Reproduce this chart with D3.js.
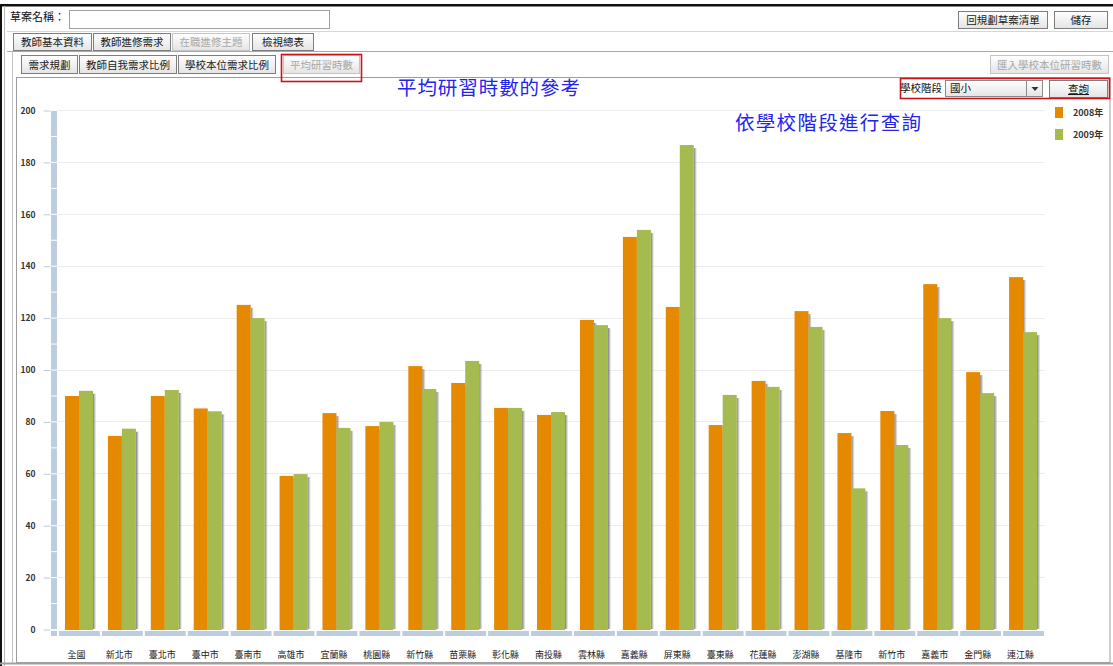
<!DOCTYPE html>
<html>
<head>
<meta charset="utf-8">
<script src="https://cdn.jsdelivr.net/npm/d3@7"></script>
<style>
  html, body { margin: 0; padding: 0; background: #fff; overflow: hidden; }
  svg { display: block; }
  text { font-family: "Noto Sans CJK TC", "Noto Sans", sans-serif; }
</style>
</head>
<body>
<svg id="page" width="1113" height="666"></svg>
<script>
// ---- data ----
const categories = ['全國','新北市','臺北市','臺中市','臺南市','高雄市','宜蘭縣','桃園縣','新竹縣','苗栗縣','彰化縣','南投縣','雲林縣','嘉義縣','屏東縣','臺東縣','花蓮縣','澎湖縣','基隆市','新竹市','嘉義市','金門縣','連江縣'];
const seriesNames = ['2008年', '2009年'];
const values2008 = [89.8, 74.4, 89.8, 85.0, 124.9, 59.0, 83.2, 78.2, 101.3, 94.8, 85.2, 82.5, 119.1, 151.1, 124.1, 78.6, 95.6, 122.5, 75.5, 84.0, 132.9, 99.0, 135.6];
const values2009 = [91.8, 77.2, 92.1, 83.9, 119.8, 59.7, 77.5, 79.8, 92.5, 103.3, 85.2, 83.6, 117.1, 153.8, 186.5, 90.2, 93.3, 116.4, 54.2, 70.9, 119.8, 90.9, 114.4];
const yTicks = [0, 20, 40, 60, 80, 100, 120, 140, 160, 180, 200];
const seriesColors = ['#e58a00', '#a5bb4f'];

const svg = d3.select('#page');
const defs = svg.append('defs');

// button face gradient
const bg = defs.append('linearGradient').attr('id', 'btnFace').attr('x1', 0).attr('y1', 0).attr('x2', 0).attr('y2', 1);
bg.append('stop').attr('offset', '0%').attr('stop-color', '#ffffff');
bg.append('stop').attr('offset', '100%').attr('stop-color', '#e4e4e4');

// bar drop shadow gradient
const sg = defs.append('linearGradient').attr('id', 'barShadow').attr('x1', 0).attr('y1', 0).attr('x2', 1).attr('y2', 0);
sg.append('stop').attr('offset', '0%').attr('stop-color', '#5a5a5a').attr('stop-opacity', 0.85);
sg.append('stop').attr('offset', '100%').attr('stop-color', '#9a9a9a').attr('stop-opacity', 0.15);

// ---- page frame ----
svg.append('rect').attr('x', 0).attr('y', 4).attr('width', 1113).attr('height', 2.5).attr('fill', '#111');
svg.append('rect').attr('x', 0).attr('y', 4).attr('width', 2).attr('height', 662).attr('fill', '#111');
svg.append('line').attr('x1', 4.5).attr('x2', 4.5).attr('y1', 6).attr('y2', 666).attr('stroke', '#b8b8b8');
svg.append('line').attr('x1', 7).attr('x2', 1113).attr('y1', 31.5).attr('y2', 31.5).attr('stroke', '#d6d6d6');
svg.append('line').attr('x1', 7).attr('x2', 1113).attr('y1', 51.5).attr('y2', 51.5).attr('stroke', '#a8a8a8');
svg.append('line').attr('x1', 12.5).attr('x2', 12.5).attr('y1', 52).attr('y2', 663).attr('stroke', '#c4c4c4');
// chart panel
svg.append('rect').attr('x', 16.5).attr('y', 77.5).attr('width', 1093.5).attr('height', 585)
  .attr('fill', 'none').attr('stroke', '#9c9c9c');
svg.append('line').attr('x1', 0).attr('x2', 1113).attr('y1', 663.5).attr('y2', 663.5).attr('stroke', '#a0a0a0').attr('stroke-width', 2);

// ---- toolbar controls ----
function button(x, y, w, h, label, opt = {}) {
  const g = svg.append('g');
  g.append('rect').attr('x', x + 0.5).attr('y', y + 0.5).attr('width', w).attr('height', h)
    .attr('fill', 'url(#btnFace)').attr('stroke', opt.disabled ? '#c4c4c4' : '#7d7d7d');
  const t = g.append('text').attr('x', x + w / 2 + 0.5).attr('y', y + h / 2 + 4.5)
    .attr('text-anchor', 'middle').attr('font-size', 10.5)
    .attr('fill', opt.disabled ? '#a8a8a8' : '#1a1a1a').text(label);
  if (opt.underline) t.attr('text-decoration', 'underline');
  return g;
}

svg.append('text').attr('x', 10).attr('y', 21).attr('font-size', 11).attr('fill', '#111').text('草案名稱：');
svg.append('rect').attr('x', 69.5).attr('y', 10.5).attr('width', 260).attr('height', 18)
  .attr('fill', '#fff').attr('stroke', '#a0a0a0');

button(958, 11, 89, 17, '回規劃草案清單');
button(1054, 11, 53, 17, '儲存');

button(13, 33, 78, 17, '教師基本資料');
button(93, 33, 77, 17, '教師進修需求');
button(172, 33, 77, 17, '在職進修主題', { disabled: true });
button(252, 33, 61, 17, '檢視總表');

button(21, 55, 56, 18, '需求規劃');
button(79, 55, 97, 18, '教師自我需求比例');
button(178, 55, 97, 18, '學校本位需求比例');
button(283, 55, 76, 18, '平均研習時數', { disabled: true });
button(990, 55, 118, 18, '匯入學校本位研習時數', { disabled: true });

// red highlight boxes
svg.append('rect').attr('x', 281.5).attr('y', 54.5).attr('width', 80).attr('height', 27)
  .attr('fill', 'none').attr('stroke', '#c8141c').attr('stroke-width', 1.6);

// school level query row
svg.append('text').attr('x', 900).attr('y', 92).attr('font-size', 10.5).attr('fill', '#111').text('學校階段');
svg.append('rect').attr('x', 945.5).attr('y', 80.5).attr('width', 97).attr('height', 16)
  .attr('fill', 'url(#btnFace)').attr('stroke', '#8a8a8a');
svg.append('line').attr('x1', 1026.5).attr('x2', 1026.5).attr('y1', 81).attr('y2', 97).attr('stroke', '#8a8a8a');
svg.append('path').attr('d', 'M1031.5,87 L1038.5,87 L1035,91 Z').attr('fill', '#333');
svg.append('text').attr('x', 950).attr('y', 92).attr('font-size', 10.5).attr('fill', '#111').text('國小');
button(1049, 80, 58, 17, '查詢', { underline: true });
svg.append('rect').attr('x', 900.5).attr('y', 78.5).attr('width', 209).attr('height', 20)
  .attr('fill', 'none').attr('stroke', '#c8141c').attr('stroke-width', 1.6);

// blue annotations
svg.append('text').attr('x', 397).attr('y', 95).attr('font-size', 19.5).attr('fill', '#2424f0')
  .attr('textLength', 183).attr('lengthAdjust', 'spacing').text('平均研習時數的參考');
svg.append('text').attr('x', 735).attr('y', 130).attr('font-size', 19.5).attr('fill', '#2424f0')
  .attr('textLength', 186).attr('lengthAdjust', 'spacing').text('依學校階段進行查詢');

// ---- chart ----
const y = d3.scaleLinear().domain([0, 200]).range([629, 110]);
const x = d3.scaleBand().domain(categories).range([58, 1045]).paddingInner(0).paddingOuter(0);
const xInner = d3.scaleBand().domain(seriesNames).range([7, 35]);
const chart = svg.append('g');

// gridlines
chart.append('g').selectAll('line').data(yTicks.filter(d => d > 0)).join('line')
  .attr('x1', 57).attr('x2', 1045)
  .attr('y1', d => Math.round(y(d)) + 0.5).attr('y2', d => Math.round(y(d)) + 0.5)
  .attr('stroke', '#ececec');

// vertical axis rail (segmented)
const railSteps = d3.range(0, 200, 10);
chart.append('g').selectAll('rect').data(railSteps).join('rect')
  .attr('x', 51).attr('width', 6)
  .attr('y', d => y(d + 10) + 1).attr('height', d => y(d) - y(d + 10) - 1)
  .attr('fill', '#bccde0');
chart.append('rect').attr('x', 51).attr('y', 631).attr('width', 6).attr('height', 5).attr('fill', '#bccde0');

// base rail (segmented per category)
chart.append('g').selectAll('rect').data(categories).join('rect')
  .attr('x', d => x(d) + 1).attr('width', x.bandwidth() - 2)
  .attr('y', 631).attr('height', 5).attr('fill', '#bccde0');

// y axis
const yAxis = d3.axisLeft(y).tickValues(yTicks).tickSize(7).tickPadding(8);
const ya = chart.append('g').attr('transform', 'translate(50.5,0.5)').call(yAxis);
ya.select('.domain').remove();
ya.selectAll('.tick line').attr('stroke', '#bccde0');
ya.selectAll('.tick text').attr('font-family', '"Liberation Sans", Arial, sans-serif')
  .attr('font-size', 8.5).attr('font-weight', 'bold').attr('fill', '#333').attr('x', -15);

// x axis labels
const xAxis = d3.axisBottom(x).tickSize(0).tickPadding(0);
const xa = chart.append('g').attr('transform', 'translate(-3,655)').call(xAxis);
xa.select('.domain').remove();
xa.selectAll('.tick text').attr('font-size', 9).attr('fill', '#222').attr('dy', '0.3em');

// bars
const rows = categories.map((c, i) => ({ cat: c, vals: [values2008[i], values2009[i]] }));
const groups = chart.append('g').selectAll('g').data(rows).join('g')
  .attr('transform', d => `translate(${x(d.cat)},0)`);
seriesNames.forEach((s, si) => {
  const bw = xInner.bandwidth();
  groups.append('rect').attr('class', 'shadow')
    .attr('x', xInner(s) + bw).attr('width', 3)
    .attr('y', d => y(d.vals[si]) + 3).attr('height', d => y(0) - y(d.vals[si]) - 3)
    .attr('fill', 'url(#barShadow)');
  groups.append('rect')
    .attr('x', xInner(s)).attr('width', bw)
    .attr('y', d => y(d.vals[si])).attr('height', d => y(0) - y(d.vals[si]) + 1)
    .attr('fill', seriesColors[si]);
});

// legend
const legend = svg.append('g').attr('transform', 'translate(1055,107)');
seriesNames.forEach((s, i) => {
  legend.append('rect').attr('x', 0).attr('y', i * 22).attr('width', 8).attr('height', 11).attr('fill', seriesColors[i]);
  legend.append('text').attr('x', 18).attr('y', i * 22 + 9)
    .attr('font-size', 9).attr('font-weight', 'bold').attr('fill', '#333').text(s);
});
</script>
</body>
</html>
